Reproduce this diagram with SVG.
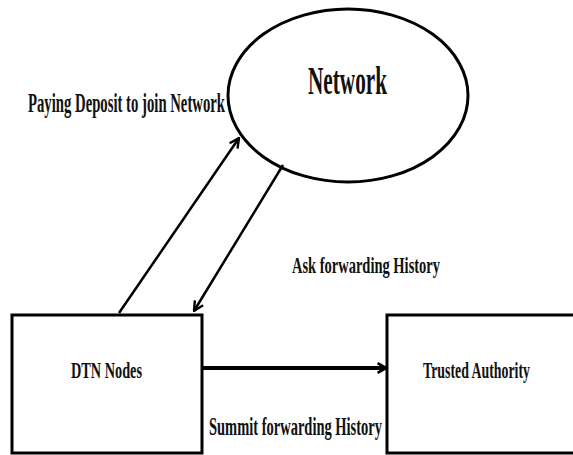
<svg xmlns="http://www.w3.org/2000/svg" width="573" height="455" viewBox="0 0 573 455">
<style>
.lbl{font-family:"Liberation Serif","Times New Roman",serif;font-weight:bold;fill:#111}
.shape{fill:#fff;stroke:#000;stroke-width:3}
.conn{stroke:#000;fill:none}
</style>
<defs>
<marker id="ah" viewBox="0 0 10 10" refX="9" refY="5" markerWidth="12" markerHeight="12" markerUnits="userSpaceOnUse" orient="auto">
<path d="M1,1 L9,5 L1,9" fill="none" stroke="#000" stroke-width="2"/>
</marker>
<marker id="ah2" viewBox="0 0 10 10" refX="9" refY="5" markerWidth="12" markerHeight="14" markerUnits="userSpaceOnUse" orient="auto">
<path d="M2,1 L9,5 L2,9" fill="none" stroke="#000" stroke-width="2.2"/>
</marker>
</defs>
<rect width="573" height="455" fill="#fff"/>
<g id="network">
<ellipse class="shape" cx="348" cy="95.5" rx="120" ry="86.5"/>
<text class="lbl" x="308" y="94" font-size="40" textLength="79" lengthAdjust="spacingAndGlyphs">Network</text>
</g>
<g id="dtn-nodes">
<rect class="shape" x="12" y="315" width="190" height="138"/>
<text class="lbl" x="71" y="378" font-size="23" textLength="71" lengthAdjust="spacingAndGlyphs">DTN Nodes</text>
</g>
<g id="trusted-authority">
<rect class="shape" x="387" y="315" width="200" height="138"/>
<text class="lbl" x="423" y="378" font-size="23" textLength="107" lengthAdjust="spacingAndGlyphs">Trusted Authority</text>
</g>
<g id="connectors">
<line class="conn" stroke-width="2.5" x1="119" y1="313" x2="239" y2="138" marker-end="url(#ah)"/>
<line class="conn" stroke-width="2.5" x1="283" y1="165" x2="194" y2="311" marker-end="url(#ah)"/>
<line class="conn" stroke-width="4" x1="202" y1="368" x2="386" y2="368" marker-end="url(#ah2)"/>
</g>
<g id="labels">
<text class="lbl" x="28" y="112" font-size="27" textLength="197" lengthAdjust="spacingAndGlyphs">Paying Deposit to join Network</text>
<text class="lbl" x="292" y="273" font-size="24" textLength="148" lengthAdjust="spacingAndGlyphs">Ask forwarding History</text>
<text class="lbl" x="209" y="435" font-size="25" textLength="173" lengthAdjust="spacingAndGlyphs">Summit forwarding History</text>
</g>
</svg>
